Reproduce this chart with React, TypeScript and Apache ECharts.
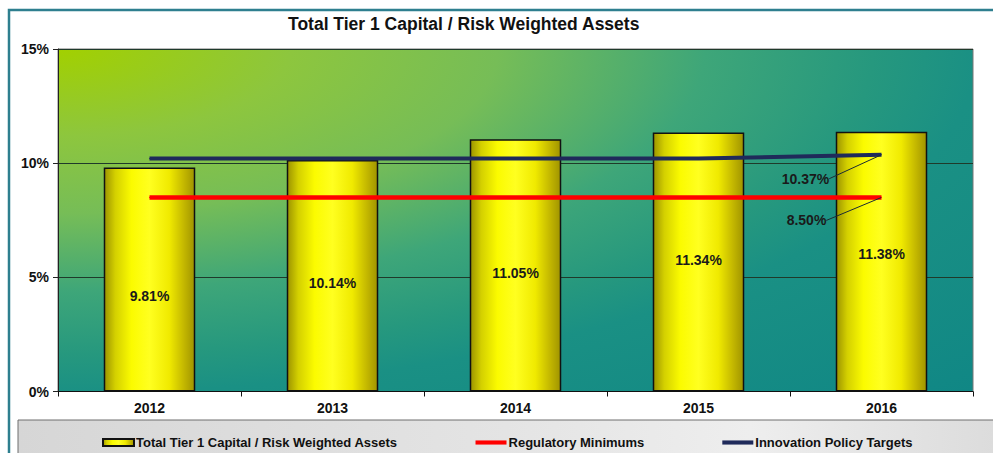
import React, { useEffect, useRef } from 'react';
import * as echarts from 'echarts';

const years = ['2012', '2013', '2014', '2015', '2016'];
const tier1Ratio = [9.81, 10.14, 11.05, 11.34, 11.38];
const regulatoryMinimums = [8.5, 8.5, 8.5, 8.5, 8.5];
const policyTargets = [10.2, 10.2, 10.2, 10.2, 10.37];
const yMin = 0;
const yMax = 15;
const yStep = 5;

const seriesNames = [
  'Total Tier 1 Capital / Risk Weighted Assets',
  'Regulatory Minimums',
  'Innovation Policy Targets',
];

const FONT = "'Liberation Sans', Arial, sans-serif";

export default function App() {
  const ref = useRef<HTMLDivElement>(null);

  useEffect(() => {
    document.body.style.margin = '0';
    if (!ref.current) return;
    const chart = echarts.init(ref.current, null, { renderer: 'svg' });

    const labelShift = [16, 7, 8, -2, -8];
    const fmt = (p: any) => Number(p.value).toFixed(2) + '%';

    const plotBg = new echarts.graphic.RadialGradient(0, 0, 1.414, [
      { offset: 0, color: '#a2d000' },
      { offset: 0.18, color: '#8dc63e' },
      { offset: 0.34, color: '#76bd57' },
      { offset: 0.5, color: '#3ea679' },
      { offset: 0.63, color: '#26987e' },
      { offset: 0.71, color: '#1a9084' },
      { offset: 1, color: '#108785' },
    ]);

    const barFill = new echarts.graphic.LinearGradient(0, 0, 1, 0, [
      { offset: 0, color: '#9c9400' },
      { offset: 0.12, color: '#d4d000' },
      { offset: 0.3, color: '#fbfb00' },
      { offset: 0.5, color: '#ffff20' },
      { offset: 0.72, color: '#f0ea00' },
      { offset: 0.88, color: '#c4b800' },
      { offset: 1, color: '#a09400' },
    ]);

    const lastLabel = (vals: number[]) =>
      vals.map((v, i) =>
        i === vals.length - 1 ? { value: v, label: { show: true } } : v
      );

    const lineLabel = {
      show: false,
      position: 'inside',
      formatter: fmt,
      fontFamily: FONT,
      fontWeight: 'bold',
      fontSize: 14,
      color: '#1a1a1a',
    };

    chart.setOption({
      animation: false,
      backgroundColor: '#ffffff',
      title: {
        text: 'Total Tier 1 Capital / Risk Weighted Assets',
        left: 288,
        top: 15,
        padding: 0,
        textStyle: {
          fontFamily: FONT,
          fontWeight: 'bold',
          fontSize: 17.5,
          color: '#111',
        },
      },
      graphic: [
        {
          type: 'rect',
          z: -10,
          shape: { x: 9, y: 10, width: 1100, height: 600 },
          style: { fill: 'none', stroke: '#2e7f8f', lineWidth: 2.5 },
        },
        {
          type: 'rect',
          z: -5,
          shape: { x: 18, y: 420, width: 976, height: 60 },
          style: {
            fill: new echarts.graphic.LinearGradient(0, 0, 1, 0, [
              { offset: 0, color: '#d6d6d6' },
              { offset: 0.5, color: '#e4e4e4' },
              { offset: 0.75, color: '#eeeeee' },
              { offset: 1, color: '#dcdcdc' },
            ]),
            stroke: '#6f6f6f',
            lineWidth: 1,
          },
        },
      ],
      legend: {
        left: 97,
        top: 431,
        itemWidth: 31,
        itemHeight: 7,
        itemGap: 78,
        textStyle: {
          fontFamily: FONT,
          fontWeight: 'bold',
          fontSize: 13,
          color: '#111',
          padding: [0, 0, 0, -3],
        },
        data: [
          { name: seriesNames[0], icon: 'rect' },
          { name: seriesNames[1], icon: 'path://M0,0H30V4H0Z', itemStyle: { color: '#ff0000', borderWidth: 0 } },
          { name: seriesNames[2], icon: 'path://M0,0H30V4H0Z', itemStyle: { color: '#1f2a5a', borderWidth: 0 } },
        ],
      },
      grid: {
        left: 58,
        top: 49,
        right: 20,
        bottom: 61.5,
        show: true,
        backgroundColor: plotBg,
        borderColor: '#777777',
        borderWidth: 1,
      },
      xAxis: {
        type: 'category',
        data: years,
        boundaryGap: true,
        axisLine: { lineStyle: { color: '#111', width: 1 } },
        axisTick: { show: true, length: 5, inside: false, lineStyle: { color: '#111' } },
        axisLabel: {
          margin: 9,
          fontFamily: FONT,
          fontWeight: 'bold',
          fontSize: 14,
          color: '#111',
        },
      },
      yAxis: {
        type: 'value',
        min: yMin,
        max: yMax,
        interval: yStep,
        axisLine: { show: true, lineStyle: { color: '#222', width: 1 } },
        axisTick: { show: true, length: 5, lineStyle: { color: '#222' } },
        splitLine: { show: true, lineStyle: { color: '#1f3a2a', width: 1 } },
        axisLabel: {
          margin: 9,
          formatter: '{value}%',
          fontFamily: FONT,
          fontWeight: 'bold',
          fontSize: 14,
          color: '#111',
        },
      },
      series: [
        {
          name: seriesNames[0],
          type: 'bar',
          barWidth: '50%',
          z: 2,
          itemStyle: { color: barFill, borderColor: '#111', borderWidth: 1.5 },
          data: tier1Ratio.map((v, i) => ({
            value: v,
            label: { offset: [0, labelShift[i]] },
          })),
          label: {
            show: true,
            position: 'inside',
            formatter: fmt,
            fontFamily: FONT,
            fontWeight: 'bold',
            fontSize: 14,
            color: '#1a1a1a',
          },
        },
        {
          name: seriesNames[1],
          type: 'line',
          z: 4,
          symbol: 'circle',
          symbolSize: 1,
          showSymbol: true,
          itemStyle: { color: '#ff0000' },
          lineStyle: { color: '#ff0000', width: 4.5 },
          data: lastLabel(regulatoryMinimums),
          label: lineLabel,
          labelLayout: { dx: -75, dy: 23 },
          labelLine: { show: true, lineStyle: { color: '#1b2b33', width: 1 } },
        },
        {
          name: seriesNames[2],
          type: 'line',
          z: 4,
          symbol: 'circle',
          symbolSize: 1,
          showSymbol: true,
          itemStyle: { color: '#1f2a5a' },
          lineStyle: { color: '#1f2a5a', width: 4 },
          data: lastLabel(policyTargets),
          label: lineLabel,
          labelLayout: { dx: -76, dy: 24 },
          labelLine: { show: true, lineStyle: { color: '#1b2b33', width: 1 } },
        },
      ],
    });

    return () => chart.dispose();
  }, []);

  return <div ref={ref} style={{ width: 993, height: 453 }} />;
}
